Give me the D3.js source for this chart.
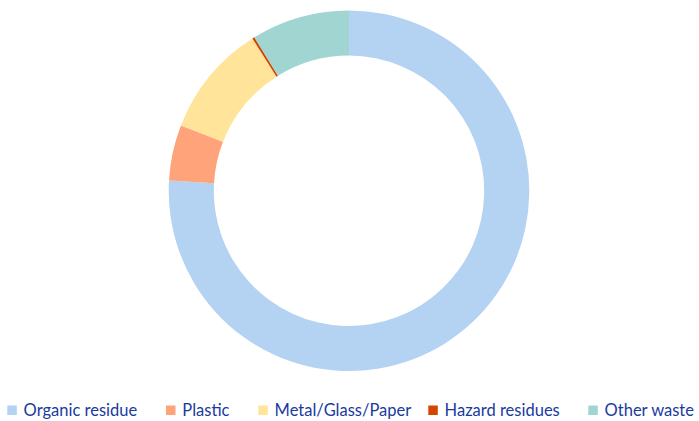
<!DOCTYPE html>
<html><head><meta charset="utf-8">
<script src="https://cdn.jsdelivr.net/npm/d3@7"></script>
<style>body{margin:0;background:#fff}svg{display:block}</style>
</head><body>
<svg id="c" width="699" height="421"></svg>
<script>
const categories = ["Organic residue", "Plastic", "Metal/Glass/Paper", "Hazard residues", "Other waste"];
const values = [75.9, 5.0, 10.1, 0.2, 8.8];
const colors = ["#b4d2f2", "#ffa37a", "#ffe49a", "#d44500", "#a0d5d2"];

const svg = d3.select("#c");
const cx = 349, cy = 190.8, R = 180.3, r = 135.2;
const pie = d3.pie().sort(null).value(d => d)(values);
const arc = d3.arc().innerRadius(r).outerRadius(R);
const color = d3.scaleOrdinal().domain(categories).range(colors);
svg.append("g").attr("transform", `translate(${cx},${cy})`)
  .selectAll("path").data(pie).enter().append("path")
  .attr("d", arc).attr("fill", (d, i) => color(categories[i]));

// legend (layout positions)
const legendX = [7.3, 166, 258.3, 428.3, 588.3];
const lg = svg.append("g");
const items = lg.selectAll("g").data(categories).enter().append("g")
  .attr("transform", (d, i) => `translate(${legendX[i]},415.5)`);
items.append("rect").attr("width", 9.5).attr("height", 9.5).attr("y", -10)
  .attr("fill", d => color(d));
items.append("text").attr("x", 16.3).attr("y", 0)
  .attr("font-family", "Lato, 'Open Sans', sans-serif").attr("font-size", 16.5)
  .attr("fill", "#1a3aa0").text(d => d);
</script>
</body></html>
